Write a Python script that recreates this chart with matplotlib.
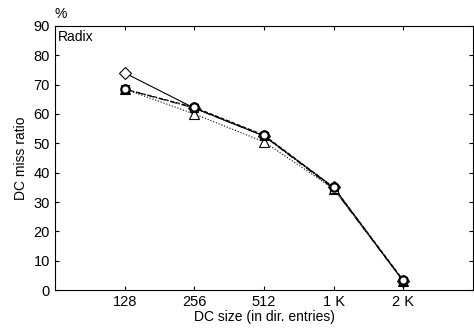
import numpy as np
import matplotlib
matplotlib.use("Agg")
import matplotlib.pyplot as plt

plt.rcParams['font.family'] = ['Liberation Sans', 'DejaVu Sans']

sizes = ["128", "256", "512", "1 K", "2 K"]
diamond = [74, 62, 52.5, 35, 3]
square = [68.5, 62, 52.5, 34.5, 3]
triangle = [68.5, 60, 50.5, 34.5, 3]
circle = [68.5, 62.3, 52.8, 35, 3.3]

x = np.arange(1, len(sizes) + 1)

fig = plt.figure(figsize=(4.74, 3.33), dpi=100)
ax = fig.add_axes([0.116, 0.129, 0.882, 0.793])

ax.plot(x, diamond, ls="-", c="black", lw=0.8, marker="D", ms=6, mfc="white", mec="black", mew=0.8)
ax.plot(x, triangle, ls=":", c="black", lw=0.8, marker="^", ms=7, mfc="white", mec="black", mew=0.8)
ax.plot(x, square, ls="-.", c="black", lw=0.8, marker="s", ms=6, mfc="white", mec="black", mew=0.8)
ax.plot(x, circle, ls="--", c="black", lw=0.8, marker="o", ms=6, mfc="white", mec="black", mew=1.6)

ax.set_xlim(0, 6)
ax.set_ylim(0, 90)
ax.set_xticks(x)
ax.set_xticklabels(sizes)
ax.set_yticks(range(0, 91, 10))
ax.tick_params(direction="in", top=True, right=True, labelsize=10.5, length=3, width=0.8)
for s in ax.spines.values():
    s.set_linewidth(0.8)

ax.set_xlabel("DC size (in dir. entries)", fontsize=10, labelpad=1)
ax.set_ylabel("DC miss ratio", fontsize=10, labelpad=4)
ax.text(0.008, 0.985, "Radix", transform=ax.transAxes, fontsize=10, va="top", ha="left")
ax.text(0.0, 1.02, "%", transform=ax.transAxes, fontsize=10, va="bottom", ha="left")

fig.savefig("out.png", dpi=100)
